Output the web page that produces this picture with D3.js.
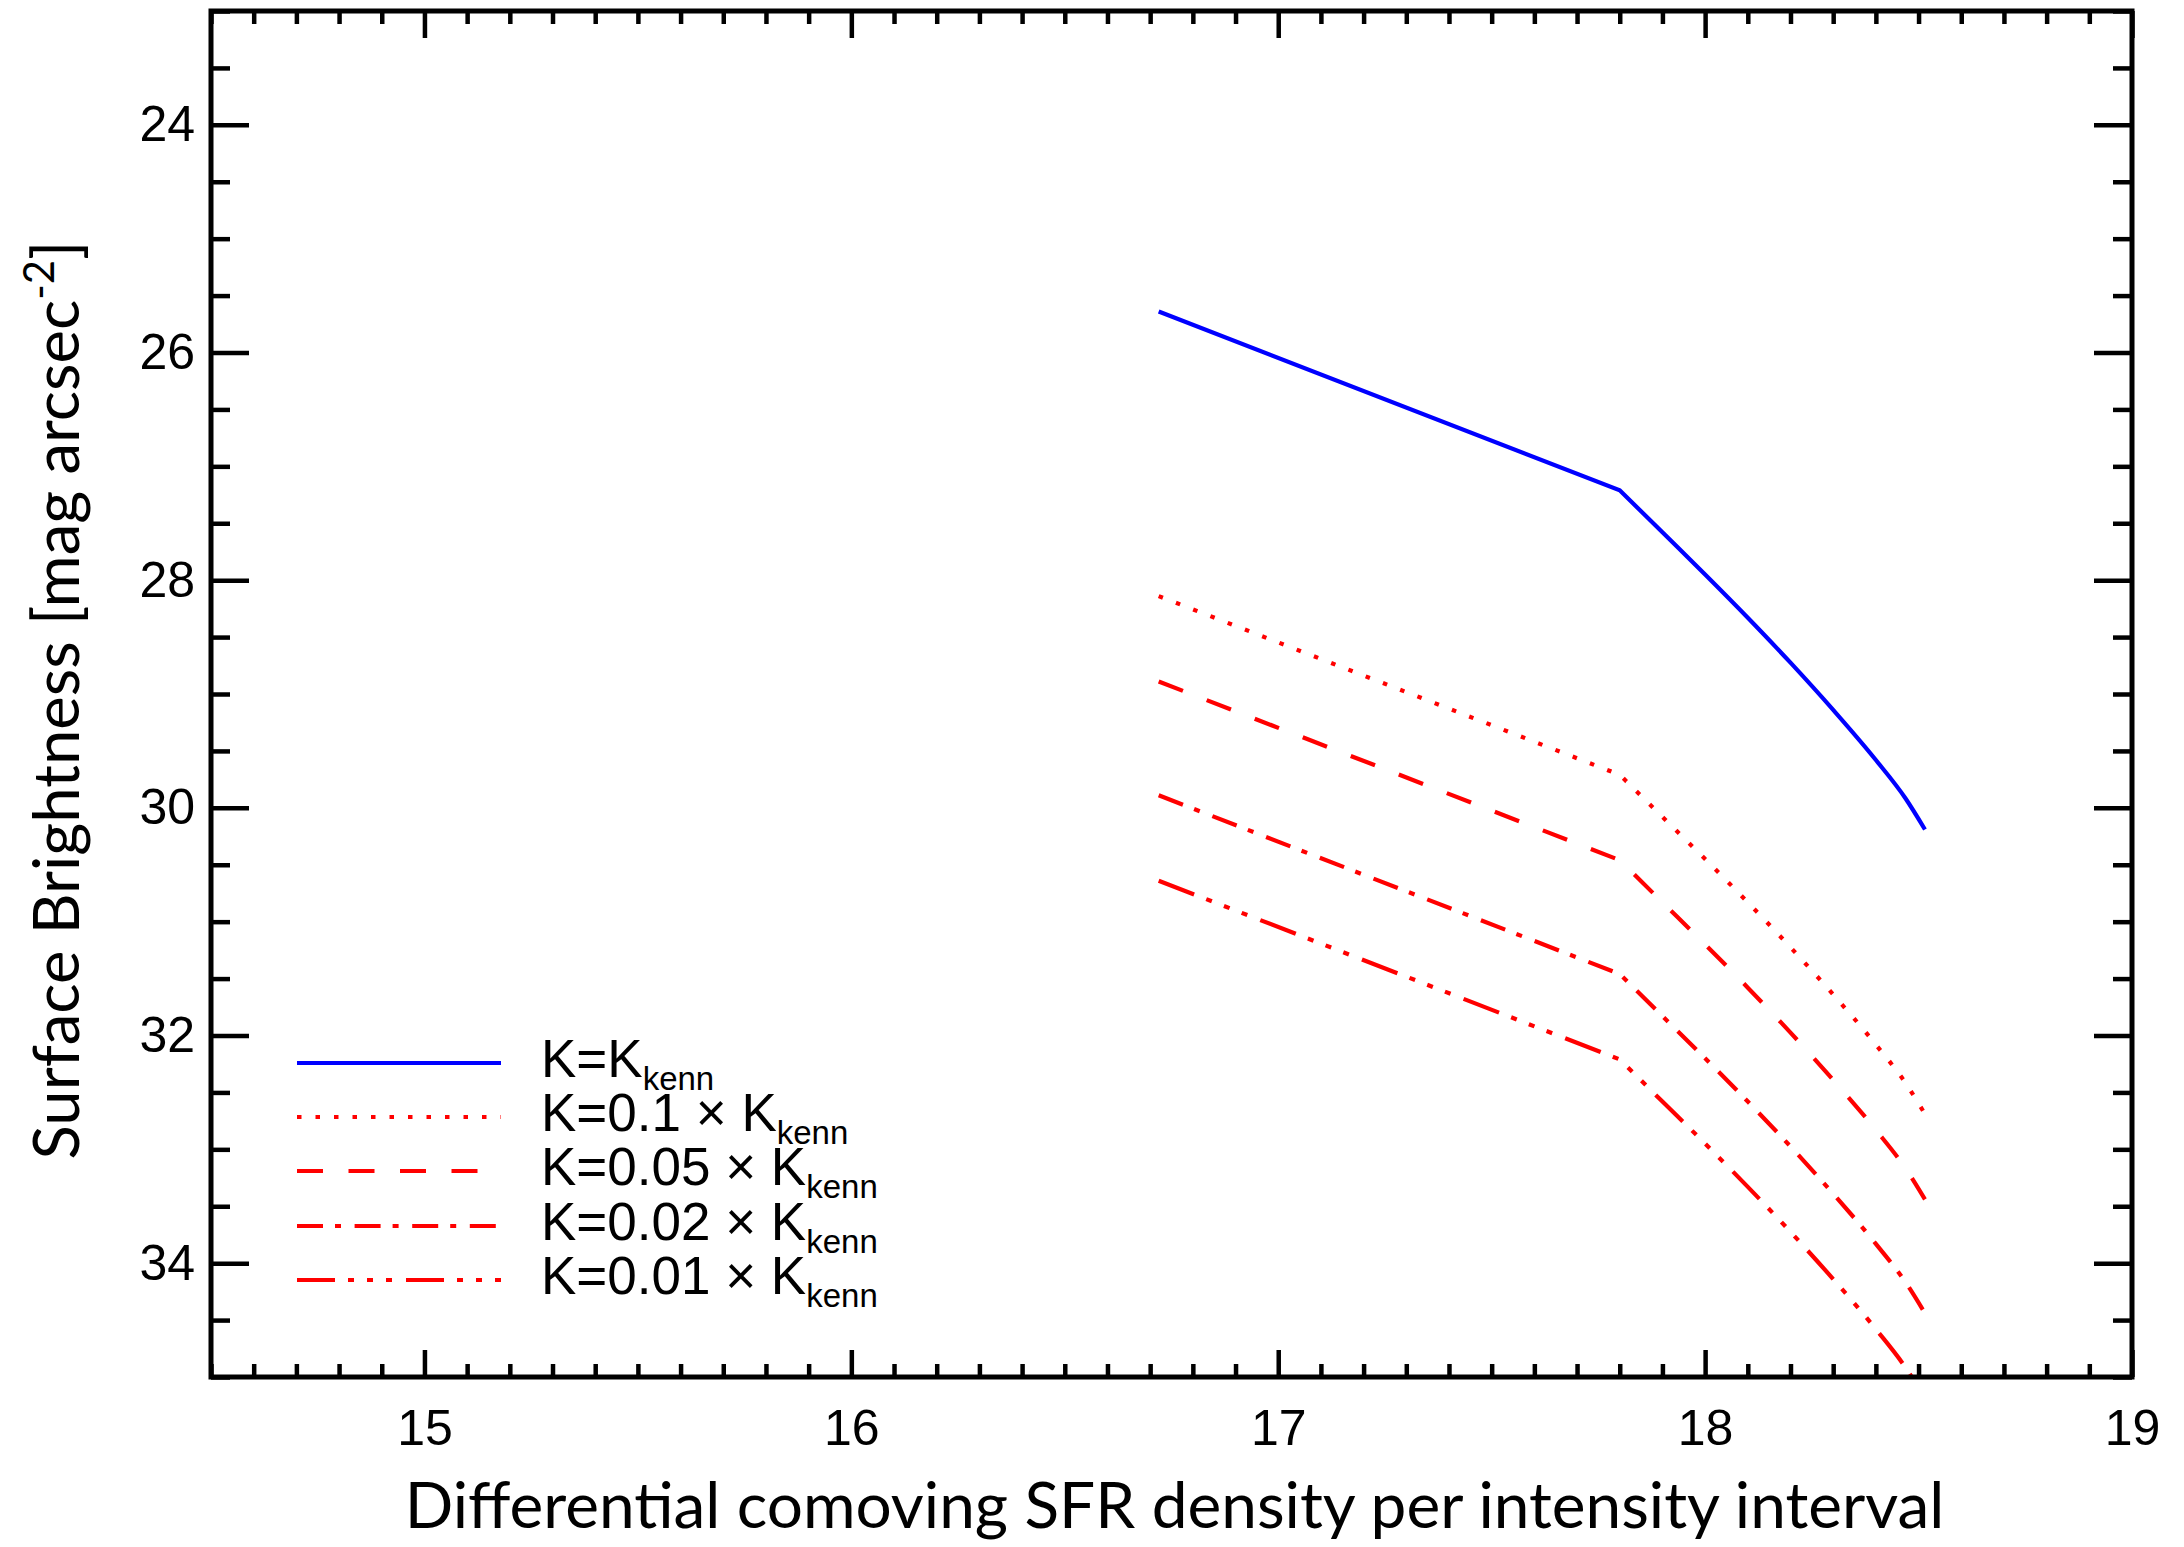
<!DOCTYPE html>
<html>
<head>
<meta charset="utf-8">
<script src="https://cdn.jsdelivr.net/npm/d3@7"></script>
<style>
  html, body { margin: 0; padding: 0; background: #ffffff; }
  svg { display: block; }
</style>
</head>
<body>
<svg id="chart" width="2184" height="1547"></svg>
<script>
// ---- data -------------------------------------------------------------
// differential comoving SFR density (x) and surface brightness (y) per model
const sfrDensity = [16.72, 17.80, 17.90, 18.00, 18.10, 18.20, 18.30, 18.40, 18.47, 18.515];

const sbKenn    = [25.64, 27.21, 27.58, 27.95, 28.33, 28.725, 29.14, 29.58, 29.92, 30.19];
const sbKenn010 = [28.14, 29.71, 30.08, 30.45, 30.83, 31.225, 31.64, 32.08, 32.42, 32.69];
const sbKenn005 = [28.89, 30.46, 30.83, 31.20, 31.58, 31.975, 32.39, 32.83, 33.17, 33.44];
const sbKenn002 = [29.89, 31.46, 31.83, 32.20, 32.58, 32.975, 33.39, 33.83, 34.17, 34.44];
const sbKenn001 = [30.64, 32.21, 32.58, 32.95, 33.33, 33.725, 34.14, 34.58, 34.92, 35.19];

const legendLabels = ["K=K", "K=0.1 \u00d7 K", "K=0.05 \u00d7 K", "K=0.02 \u00d7 K", "K=0.01 \u00d7 K"];
const legendSub = "kenn";

const xMajorTicks = [15, 16, 17, 18, 19];
const yMajorTicks = [24, 26, 28, 30, 32, 34];

const xTitle = "Differential comoving SFR density per intensity interval";
const yTitleMain = "Surface Brightness [mag arcsec";
const yTitleSup = "-2";
const yTitleEnd = "]";

// ---- layout -----------------------------------------------------------
const W = 2184, H = 1547;
const plot = { left: 211, right: 2132, top: 11, bottom: 1377 };

const svg = d3.select("#chart");
svg.append("rect").attr("width", W).attr("height", H).attr("fill", "#ffffff");

const x = d3.scaleLinear().domain([14.5, 19]).range([plot.left, plot.right]);
const y = d3.scaleLinear().domain([23, 35]).range([plot.top, plot.bottom]);

const xMinor = d3.range(145, 191).map(v => v / 10).filter(v => !xMajorTicks.includes(v));
const yMinor = d3.range(46, 71).map(v => v / 2).filter(v => !yMajorTicks.includes(v));

const numFont = "'Liberation Sans', Arial, Helvetica, sans-serif";
const titleFont = "Lato, 'Open Sans', sans-serif";

// ---- axes (ticks pointing inward on all four sides) --------------------
function styleAxis(g, width) {
  g.select(".domain").remove();
  g.selectAll(".tick line").attr("stroke", "#000").attr("stroke-width", width);
}

const gx = svg.append("g").attr("transform", `translate(0,${plot.bottom})`)
  .call(d3.axisBottom(x).tickValues(xMajorTicks).tickSize(-27).tickPadding(32)
    .tickFormat(d3.format("d")));
styleAxis(gx, 4.5);
gx.selectAll("text").attr("font-family", numFont).attr("font-size", 50).attr("fill", "#000");

const gxm = svg.append("g").attr("transform", `translate(0,${plot.bottom})`)
  .call(d3.axisBottom(x).tickValues(xMinor).tickSize(-13).tickFormat(""));
styleAxis(gxm, 4.5);

const gxt = svg.append("g").attr("transform", `translate(0,${plot.top})`)
  .call(d3.axisTop(x).tickValues(xMajorTicks).tickSize(-27).tickFormat(""));
styleAxis(gxt, 4.5);
const gxtm = svg.append("g").attr("transform", `translate(0,${plot.top})`)
  .call(d3.axisTop(x).tickValues(xMinor).tickSize(-13).tickFormat(""));
styleAxis(gxtm, 4.5);

const gy = svg.append("g").attr("transform", `translate(${plot.left},0)`)
  .call(d3.axisLeft(y).tickValues(yMajorTicks).tickSize(-38).tickPadding(16)
    .tickFormat(d3.format("d")));
styleAxis(gy, 4.5);
gy.selectAll("text").attr("font-family", numFont).attr("font-size", 50).attr("fill", "#000");

const gym = svg.append("g").attr("transform", `translate(${plot.left},0)`)
  .call(d3.axisLeft(y).tickValues(yMinor).tickSize(-19).tickFormat(""));
styleAxis(gym, 4.5);

const gyr = svg.append("g").attr("transform", `translate(${plot.right},0)`)
  .call(d3.axisRight(y).tickValues(yMajorTicks).tickSize(-38).tickFormat(""));
styleAxis(gyr, 4.5);
const gyrm = svg.append("g").attr("transform", `translate(${plot.right},0)`)
  .call(d3.axisRight(y).tickValues(yMinor).tickSize(-19).tickFormat(""));
styleAxis(gyrm, 4.5);

// ---- curves -----------------------------------------------------------
svg.append("clipPath").attr("id", "plot-clip")
  .append("rect")
  .attr("x", plot.left).attr("y", plot.top)
  .attr("width", plot.right - plot.left).attr("height", plot.bottom - plot.top);

const series = [
  { values: sbKenn,    color: "#0000ff", dash: null },
  { values: sbKenn010, color: "#ff0000", dash: "4.5,14" },
  { values: sbKenn005, color: "#ff0000", dash: "26,25.5" },
  { values: sbKenn002, color: "#ff0000", dash: "26,12,6,13.6" },
  { values: sbKenn001, color: "#ff0000", dash: "38,13,6,13,6,13,6,14" }
];

// straight run up to the break, smooth monotone curve beyond it
const smooth = d3.line()
  .x(d => x(d[0]))
  .y(d => y(d[1]))
  .curve(d3.curveMonotoneX);

function pathFor(points) {
  const head = points[0];
  const tail = smooth(points.slice(1));
  return `M${x(head[0])},${y(head[1])}L` + tail.slice(1);
}

const curves = svg.append("g").attr("clip-path", "url(#plot-clip)");
series.forEach(s => {
  curves.append("path")
    .datum(sfrDensity.map((v, i) => [v, s.values[i]]))
    .attr("d", pathFor)
    .attr("fill", "none")
    .attr("stroke", s.color)
    .attr("stroke-width", 4.2)
    .attr("stroke-linejoin", "miter")
    .attr("stroke-dasharray", s.dash);
});

// ---- frame ------------------------------------------------------------
svg.append("rect")
  .attr("x", plot.left).attr("y", plot.top)
  .attr("width", plot.right - plot.left).attr("height", plot.bottom - plot.top)
  .attr("fill", "none").attr("stroke", "#000").attr("stroke-width", 5);

// ---- legend -----------------------------------------------------------
const legend = svg.append("g");
const legendY = [1063, 1117, 1171, 1226, 1280];
series.forEach((s, i) => {
  legend.append("line")
    .attr("x1", 297).attr("x2", 501)
    .attr("y1", legendY[i]).attr("y2", legendY[i])
    .attr("stroke", s.color).attr("stroke-width", 4.2)
    .attr("stroke-dasharray", s.dash);
  const t = legend.append("text")
    .attr("x", 541).attr("y", legendY[i] + 14)
    .attr("font-family", numFont).attr("font-size", 53)
    .attr("fill", "#000");
  t.append("tspan").text(legendLabels[i]);
  t.append("tspan").attr("font-size", 33).attr("dy", 13).text(legendSub);
});

// ---- axis titles ------------------------------------------------------
const xt = svg.append("text")
  .attr("x", (plot.left + plot.right) / 2 + 3).attr("y", 1528)
  .attr("text-anchor", "middle")
  .attr("font-family", titleFont).attr("font-size", 64)
  .attr("fill", "#000")
  .text(xTitle);
const xtW = xt.node().getComputedTextLength();
xt.attr("font-size", 64 * 1540 / xtW);

const yt = svg.append("text")
  .attr("transform", `translate(79,${700}) rotate(-90)`)
  .attr("text-anchor", "middle")
  .attr("font-family", titleFont).attr("font-size", 64)
  .attr("fill", "#000");
yt.append("tspan").text(yTitleMain);
yt.append("tspan").attr("font-size", 42).attr("dy", -26).text(yTitleSup);
yt.append("tspan").attr("dy", 26).text(yTitleEnd);
const ytW = yt.node().getComputedTextLength();
const ySize = 64 * 919 / ytW;
yt.attr("font-size", ySize);
yt.selectAll("tspan").filter((d, i) => i === 1).attr("font-size", ySize * 0.66).attr("dy", -ySize * 0.4);
yt.selectAll("tspan").filter((d, i) => i === 2).attr("dy", ySize * 0.4);
</script>
</body>
</html>
